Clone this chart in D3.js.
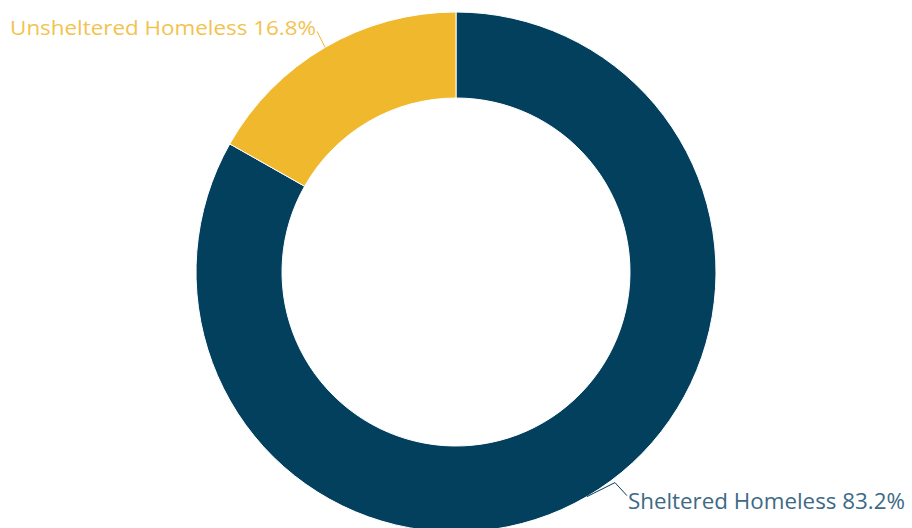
<!DOCTYPE html>
<html>
<head>
<meta charset="utf-8">
<script src="https://cdn.jsdelivr.net/npm/d3@7"></script>
<style>
  body { margin: 0; background: #fff; }
  text { font-family: "Open Sans", "DejaVu Sans", sans-serif; }
</style>
</head>
<body>
<script>
const categories = ['Sheltered Homeless', 'Unsheltered Homeless'];
const values = [83.2, 16.8];
const colors = ['#02405e', '#f0b82c'];
const textColors = ['#3d6a86', '#f1c34f'];

const width = 912;
const height = 528;
const cx = 456, cy = 272;
const outerR = 260, innerR = 174;

const svg = d3.select('body').append('svg')
	.attr('width', width)
	.attr('height', height);

const g = svg.append('g')
	.attr('transform', 'translate(' + cx + ',' + cy + ')');

const data = categories.map(function(c, i) {
	return { name: c, value: values[i], color: colors[i], text: textColors[i] };
});

const pie = d3.pie().sort(null).value(function(d) { return d.value; });
const arc = d3.arc().innerRadius(innerR).outerRadius(outerR);
const arcs = pie(data);

g.selectAll('path.slice')
	.data(arcs)
	.enter().append('path')
	.attr('class', 'slice')
	.attr('d', arc)
	.attr('fill', function(d) { return d.data.color; })
	.attr('stroke', '#fff')
	.attr('stroke-width', 1);

// outer point of each slice's middle
function edge(d) {
	const a = (d.startAngle + d.endAngle) / 2;
	return [outerR * Math.sin(a), -outerR * Math.cos(a)];
}

// sheltered label (bottom right, zigzag leader)
const s = arcs[0];
const sp = edge(s);
g.append('path')
	.attr('d', d3.line()([sp, [sp[0] + 28, sp[1] - 14], [sp[0] + 40, sp[1] - 1]]))
	.attr('fill', 'none')
	.attr('stroke', s.data.color)
	.attr('stroke-width', 1);
g.append('text')
	.attr('x', sp[0] + 41)
	.attr('y', sp[1] + 12)
	.attr('fill', s.data.text)
	.style('font-size', '21px')
	.attr('textLength', 277)
	.attr('lengthAdjust', 'spacingAndGlyphs')
	.text(s.data.name + ' ' + s.data.value.toFixed(1) + '%');

// unsheltered label (top left)
const u = arcs[1];
const up = edge(u);
g.append('path')
	.attr('d', d3.line()([up, [up[0] - 8, up[1] - 16]]))
	.attr('fill', 'none')
	.attr('stroke', u.data.color)
	.attr('stroke-width', 1);
g.append('text')
	.attr('x', up[0] - 9)
	.attr('y', up[1] - 12)
	.attr('text-anchor', 'end')
	.attr('fill', u.data.text)
	.style('font-size', '20px')
	.attr('textLength', 306)
	.attr('lengthAdjust', 'spacingAndGlyphs')
	.text(u.data.name + ' ' + u.data.value.toFixed(1) + '%');
</script>
</body>
</html>
